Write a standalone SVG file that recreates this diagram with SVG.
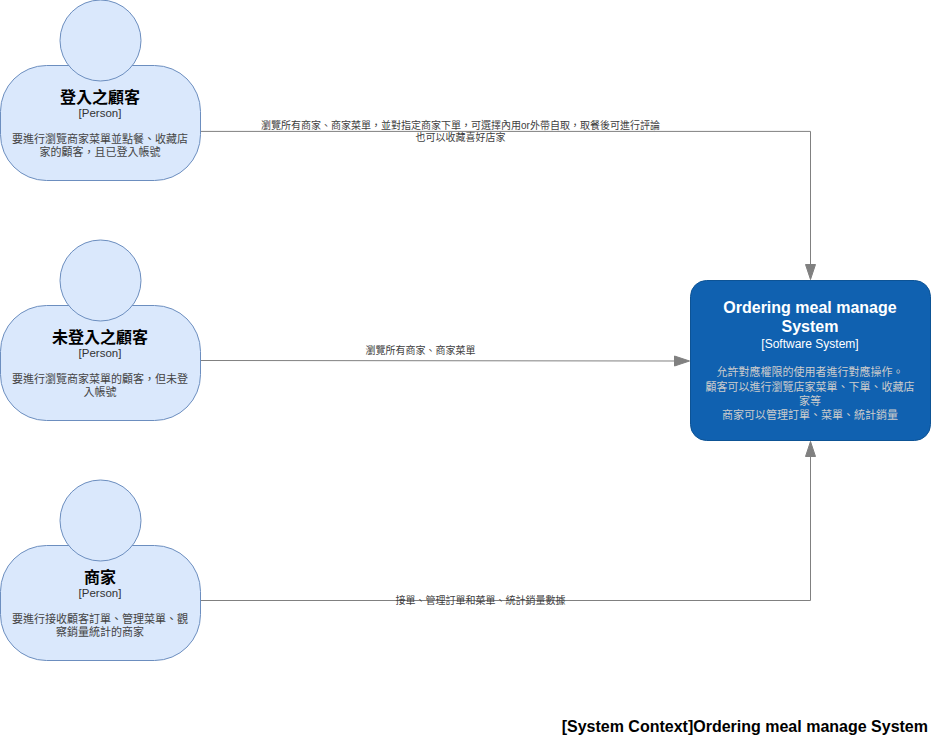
<svg xmlns="http://www.w3.org/2000/svg" width="931" height="751" viewBox="0 0 931 751">
<style>
text{font-family:"Liberation Sans","Noto Sans CJK TC",sans-serif;text-anchor:middle}
.shape{fill:#dae8fc;stroke:#6c8ebf;stroke-width:1}
.t{font-size:16px;font-weight:bold;fill:#000}
.k{font-size:11.5px;fill:#333}
.d{font-size:11px;fill:#444}
.wt{font-size:16px;font-weight:bold;fill:#fff}
.wk{font-size:12px;fill:#fff}
.wd{font-size:11px;fill:#ccc}
.l{font-size:10px;fill:#404040}
.c{fill:none;stroke:#808080;stroke-width:1}
.a{fill:#808080;stroke:#808080}
</style>
<rect width="931" height="751" fill="#fff"/>
<g id="connectors">
<path class="c" d="M200.500 131.400H810.500V266"/><path class="a" d="M810.500 279.500L805.500 264.500H815.500Z"/>
<path class="c" d="M200.500 360.500L676 361"/><path class="a" d="M689.500 361L674.500 356V366Z"/>
<path class="c" d="M200.500 600.500H810.500V456"/><path class="a" d="M810.500 441.500L805.500 456.500H815.500Z"/>
<text class="l" x="460.500" y="129">瀏覽所有商家、商家菜單，並對指定商家下單，可選擇內用or外帶自取，取餐後可進行評論</text>
<text class="l" x="460.500" y="141">也可以收藏喜好店家</text>
<text class="l" x="420.500" y="354">瀏覽所有商家、商家菜單</text>
<text class="l" x="480.500" y="604">接單、管理訂單和菜單、統計銷量數據</text>
</g>
<g id="person-logged-in">
<rect class="shape" x="0.500" y="65.500" width="200" height="115" rx="46" ry="46"/>
<circle class="shape" cx="100.500" cy="40.500" r="40.500"/>
<text class="t" x="100" y="103">登入之顧客</text>
<text class="k" x="100" y="117">[Person]</text>
<text class="d" x="100" y="143">要進行瀏覽商家菜單並點餐、收藏店</text>
<text class="d" x="100" y="156">家的顧客，且已登入帳號</text>
</g>
<g id="person-guest">
<rect class="shape" x="0.500" y="305.500" width="200" height="115" rx="46" ry="46"/>
<circle class="shape" cx="100.500" cy="280.500" r="40.500"/>
<text class="t" x="100" y="343">未登入之顧客</text>
<text class="k" x="100" y="357">[Person]</text>
<text class="d" x="100" y="383">要進行瀏覽商家菜單的顧客，但未登</text>
<text class="d" x="100" y="396">入帳號</text>
</g>
<g id="person-merchant">
<rect class="shape" x="0.500" y="545.500" width="200" height="115" rx="46" ry="46"/>
<circle class="shape" cx="100.500" cy="520.500" r="40.500"/>
<text class="t" x="100" y="583">商家</text>
<text class="k" x="100" y="597">[Person]</text>
<text class="d" x="100" y="623">要進行接收顧客訂單、管理菜單、觀</text>
<text class="d" x="100" y="636">察銷量統計的商家</text>
</g>
<g id="system">
<rect x="690.500" y="280.500" width="240" height="160" rx="16" ry="16" fill="#1061b0" stroke="#0d5395"/>
<text class="wt" x="810" y="313">Ordering meal manage</text>
<text class="wt" x="810" y="332">System</text>
<text class="wk" x="810" y="348">[Software System]</text>
<text class="wd" x="810" y="376">允許對應權限的使用者進行對應操作。</text>
<text class="wd" x="810" y="391">顧客可以進行瀏覽店家菜單、下單、收藏店</text>
<text class="wd" x="810" y="405">家等</text>
<text class="wd" x="810" y="419">商家可以管理訂單、菜單、統計銷量</text>
</g>
<g id="title">
<text x="928" y="732" style="text-anchor:end;font-size:16px;font-weight:bold;fill:#000">[System Context]Ordering meal manage System</text>
</g>
</svg>
